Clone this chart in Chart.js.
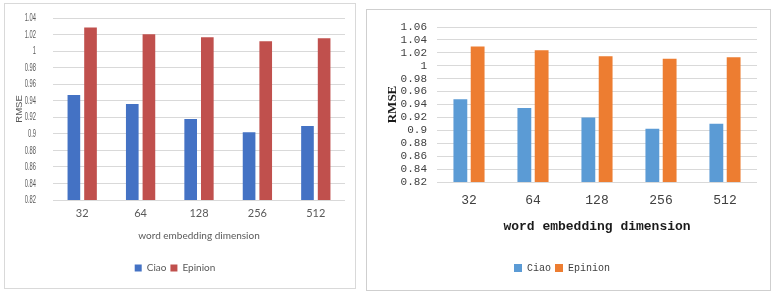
<!DOCTYPE html>
<html>
<head>
<meta charset="utf-8">
<script src="https://cdn.jsdelivr.net/npm/chart.js@4"></script>
<style>
  body { margin: 0; background: #fff; width: 775px; height: 293px; position: relative; overflow: hidden; }
  .panel { position: absolute; box-sizing: border-box; }
  #leftPanel { left: 4px; top: 3px; width: 352px; height: 286px; border: 1px solid #d9d9d9; }
  #rightPanel { left: 366px; top: 9px; width: 405px; height: 282px; border: 1px solid #cfcfcf; }
  .box { position: absolute; }
  #leftBox { left: 5px; top: 3px; width: 350px; height: 285px; }
  #rightBox { left: 367px; top: 9px; width: 403px; height: 281px; }
</style>
</head>
<body>
<div class="panel" id="leftPanel"></div>
<div class="panel" id="rightPanel"></div>
<div class="box" id="leftBox"><canvas id="leftChart"></canvas></div>
<div class="box" id="rightBox"><canvas id="rightChart"></canvas></div>
<script>
const dims = ['32', '64', '128', '256', '512'];
const seriesNames = ['Ciao', 'Epinion'];

// left figure (Excel style)
const ciaoLeft = [0.947, 0.936, 0.918, 0.902, 0.9095];
const epinionLeft = [1.0285, 1.0204, 1.0168, 1.012, 1.0156];
const leftTicks = [0.82, 0.84, 0.86, 0.88, 0.9, 0.92, 0.94, 0.96, 0.98, 1, 1.02, 1.04];

// right figure
const ciaoRight = [0.948, 0.9346, 0.92, 0.9026, 0.9103];
const epinionRight = [1.030, 1.0239, 1.0146, 1.011, 1.013];
const rightTicks = [0.82, 0.84, 0.86, 0.88, 0.9, 0.92, 0.94, 0.96, 0.98, 1, 1.02, 1.04, 1.06];

const fmt = v => String(Number(v.toFixed(2)));

// narrow y tick labels of the left figure (squeezed horizontally like the source image)
const squeezedYTicks = {
    id: 'squeezedYTicks',
    afterDraw(chart, args, opts) {
        if (!opts.on) return;
        const s = chart.scales.y;
        const ctx = chart.ctx;
        ctx.save();
        ctx.font = opts.font;
        ctx.fillStyle = opts.color;
        ctx.textAlign = 'right';
        ctx.textBaseline = 'middle';
        s.ticks.forEach(t => {
            ctx.save();
            ctx.translate(s.right - opts.pad, s.getPixelForValue(t.value));
            ctx.scale(opts.squeeze, 1);
            ctx.fillText(fmt(t.value), 0, 0);
            ctx.restore();
        });
        ctx.restore();
    }
};

function makeChart(id, cfg) {
    const ctx = document.getElementById(id).getContext('2d');
    return new Chart(ctx, {
        type: 'bar',
        data: {
            labels: dims,
            datasets: [
                { label: seriesNames[0], data: cfg.ciao, backgroundColor: cfg.colors[0], borderWidth: 0 },
                { label: seriesNames[1], data: cfg.epinion, backgroundColor: cfg.colors[1], borderWidth: 0 }
            ]
        },
        plugins: [squeezedYTicks],
        options: {
            responsive: true,
            maintainAspectRatio: false,
            animation: false,
            datasets: { bar: { categoryPercentage: cfg.catPct, barPercentage: cfg.barPct } },
            layout: { padding: cfg.padding },
            plugins: {
                tooltip: { enabled: false },
                squeezedYTicks: cfg.squeeze || { on: false },
                legend: {
                    position: 'bottom',
                    labels: {
                        color: cfg.textColor,
                        font: cfg.legendFont,
                        boxWidth: cfg.box, boxHeight: cfg.box,
                        padding: cfg.legendPad
                    }
                }
            },
            scales: {
                x: {
                    grid: { display: false, drawTicks: false },
                    border: { display: false },
                    ticks: { color: cfg.textColor, font: cfg.xTickFont, padding: cfg.xTickPad, maxRotation: 0 },
                    title: { display: true, text: 'word embedding dimension', color: cfg.titleColor, font: cfg.xTitleFont, padding: { top: 0, bottom: cfg.xTitlePad } },
                    afterFit: s => { s.height = cfg.xHeight; }
                },
                y: {
                    min: cfg.ticks[0],
                    max: cfg.ticks[cfg.ticks.length - 1],
                    afterBuildTicks: s => { s.ticks = cfg.ticks.map(v => ({ value: v })); },
                    grid: { color: '#d9d9d9', drawTicks: false },
                    border: { display: false },
                    ticks: {
                        display: !cfg.squeeze, autoSkip: false,
                        color: cfg.textColor, font: cfg.yTickFont, padding: cfg.yTickPad,
                        callback: v => fmt(v)
                    },
                    title: { display: true, text: 'RMSE', color: cfg.titleColor, font: cfg.yTitleFont, padding: { top: cfg.yTitlePad, bottom: 0 } },
                    afterFit: s => { s.width = cfg.yWidth; }
                }
            }
        }
    });
}

window.onload = () => {
    const sans = 'Lato, "Liberation Sans", sans-serif';
    const mono = '"Liberation Mono", "DejaVu Sans Mono", monospace';

    makeChart('leftChart', {
        ciao: ciaoLeft, epinion: epinionLeft, ticks: leftTicks,
        colors: ['#4472c4', '#c0504d'],
        catPct: 0.57, barPct: 0.76,
        padding: { top: 15, right: 10, bottom: 5, left: 0 },
        textColor: '#595959', titleColor: '#595959',
        legendFont: { family: sans, size: 10 }, box: 7, legendPad: 4,
        xTickFont: { family: sans, size: 11 }, xTickPad: 7,
        xTitleFont: { family: sans, size: 10 }, xTitlePad: 17,
        yTitleFont: { family: '"Liberation Sans", sans-serif', size: 9.5 }, yTitlePad: 9,
        squeeze: { on: true, font: '11.5px "Liberation Sans", sans-serif', color: '#595959', pad: 17, squeeze: 0.5 },
        xHeight: 59, yWidth: 48
    });

    makeChart('rightChart', {
        ciao: ciaoRight, epinion: epinionRight, ticks: rightTicks,
        colors: ['#5b9bd5', '#ed7d31'],
        catPct: 0.54, barPct: 0.8,
        padding: { top: 18, right: 13, bottom: 7, left: 0 },
        textColor: '#404040', titleColor: '#1a1a1a',
        legendFont: { family: mono, size: 10 }, box: 8, legendPad: 4,
        xTickFont: { family: mono, size: 13 }, xTickPad: 11,
        xTitleFont: { family: mono, size: 13, weight: 'bold' }, xTitlePad: 24,
        yTickFont: { family: mono, size: 11, lineHeight: 1 }, yTickPad: 10,
        yTitleFont: { family: '"Liberation Serif", serif', size: 13, weight: 'bold' }, yTitlePad: 18,
        xHeight: 77, yWidth: 70
    });
};
</script>
</body>
</html>
